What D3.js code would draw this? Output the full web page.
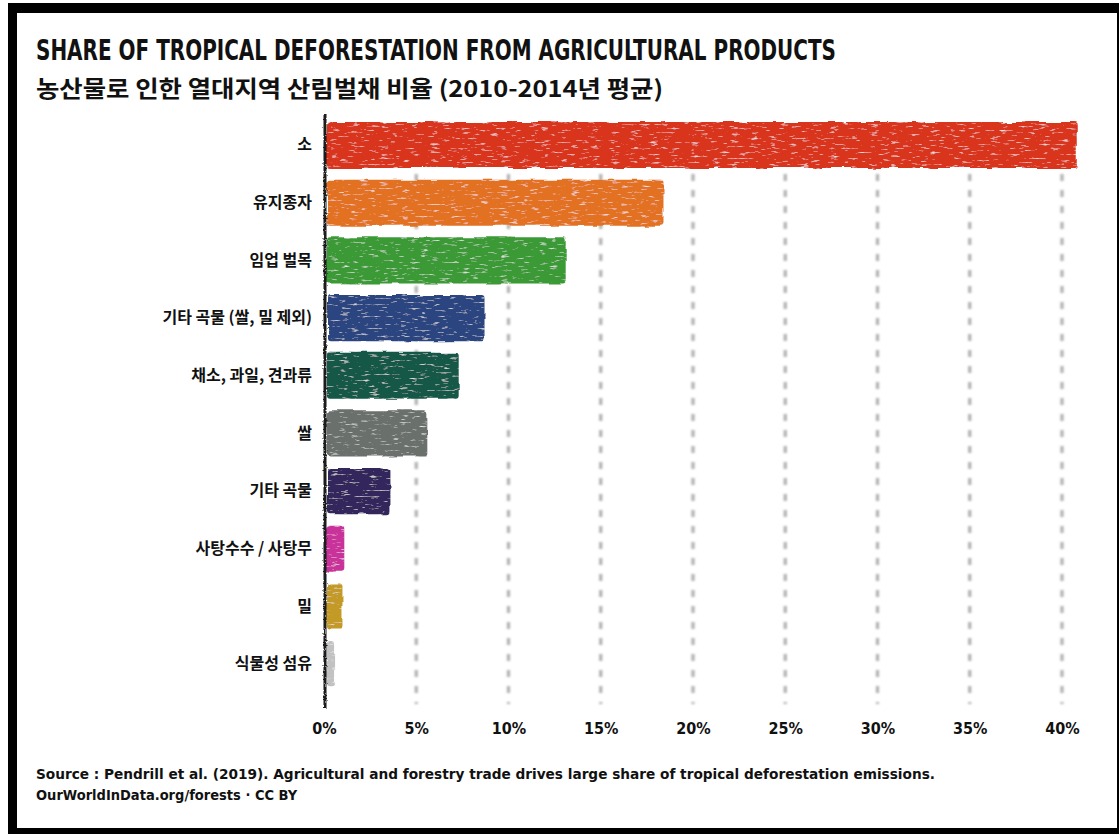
<!DOCTYPE html>
<html>
<head>
<meta charset="utf-8">
<script src="https://cdn.jsdelivr.net/npm/d3@7"></script>
<style>
  body { margin: 0; background: #fff; }
  svg { display: block; }
</style>
</head>
<body>
<div id="chart"></div>
<script>
// data
var categories = ["소", "유지종자", "임업 벌목", "기타 곡물 (쌀, 밀 제외)", "채소, 과일, 견과류",
  "쌀", "기타 곡물", "사탕수수 / 사탕무", "밀", "식물성 섬유"];
var shares = [40.8, 18.4, 13.1, 8.7, 7.3, 5.6, 3.6, 1.1, 1.0, 0.6];
var barColors = ["#d9361f", "#e27222", "#3a9a35", "#2c4480", "#135846",
  "#6b6f6c", "#33265c", "#c9309a", "#c49a25", "#c2c2c2"];
var tickValues = [0, 5, 10, 15, 20, 25, 30, 35, 40];

var width = 1119, height = 834;

var svg = d3.select("#chart").append("svg")
  .attr("width", width)
  .attr("height", height);

var defs = svg.append("defs");

// crayon look for bars
var f = defs.append("filter").attr("id", "crayon")
  .attr("x", "-3%").attr("y", "-20%").attr("width", "106%").attr("height", "140%");
f.append("feTurbulence").attr("type", "fractalNoise").attr("baseFrequency", "0.05")
  .attr("numOctaves", 2).attr("seed", 3).attr("result", "n1");
f.append("feDisplacementMap").attr("in", "SourceGraphic").attr("in2", "n1")
  .attr("scale", 5).attr("xChannelSelector", "R").attr("yChannelSelector", "G").attr("result", "d0");
f.append("feGaussianBlur").attr("in", "d0").attr("stdDeviation", 0.7).attr("result", "d");
f.append("feTurbulence").attr("type", "fractalNoise").attr("baseFrequency", "0.1 0.5")
  .attr("numOctaves", 3).attr("seed", 8).attr("result", "n2");
f.append("feColorMatrix").attr("in", "n2").attr("type", "matrix")
  .attr("values", "0 0 0 0 1  0 0 0 0 1  0 0 0 0 1  2.6 0 0 0 -1.6").attr("result", "spk");
f.append("feComposite").attr("in", "spk").attr("in2", "d").attr("operator", "in").attr("result", "spk2");
var fm = f.append("feMerge");
fm.append("feMergeNode").attr("in", "d");
fm.append("feMergeNode").attr("in", "spk2");

// rough pencil for lines (user space so thin lines keep a region)
var g2 = defs.append("filter").attr("id", "pencil").attr("filterUnits", "userSpaceOnUse")
  .attr("x", 0).attr("y", 0).attr("width", width).attr("height", height);
g2.append("feTurbulence").attr("type", "fractalNoise").attr("baseFrequency", "0.6")
  .attr("numOctaves", 1).attr("seed", 2).attr("result", "n");
g2.append("feDisplacementMap").attr("in", "SourceGraphic").attr("in2", "n")
  .attr("scale", 3).attr("xChannelSelector", "R").attr("yChannelSelector", "G");

var blur = defs.append("filter").attr("id", "soft").attr("filterUnits", "userSpaceOnUse")
  .attr("x", 0).attr("y", 0).attr("width", width).attr("height", height);
blur.append("feGaussianBlur").attr("stdDeviation", 0.9);

// frame
svg.append("rect").attr("x", 8).attr("y", 3).attr("width", width - 8).attr("height", height - 3)
  .attr("fill", "#000");
svg.append("rect").attr("x", 17).attr("y", 13).attr("width", 1100).attr("height", 815)
  .attr("fill", "#fff");

// titles
svg.append("text")
  .attr("x", 36).attr("y", 60)
  .attr("textLength", 800).attr("lengthAdjust", "spacingAndGlyphs")
  .style("font-family", "'DejaVu Sans Condensed', 'Liberation Sans Narrow', sans-serif")
  .style("font-weight", "bold").style("font-size", "29px").style("fill", "#111")
  .text("SHARE OF TROPICAL DEFORESTATION FROM AGRICULTURAL PRODUCTS");

svg.append("text")
  .attr("x", 36).attr("y", 97)
  .attr("textLength", 627).attr("lengthAdjust", "spacingAndGlyphs")
  .style("font-family", "'Noto Sans CJK KR', sans-serif")
  .style("font-weight", 700).style("font-size", "23px").style("fill", "#111")
  .text("농산물로 인한 열대지역 산림벌채 비율 (2010-2014년 평균)");

// scales
var x = d3.scaleLinear().domain([0, 40]).range([324, 1062]);
var y = d3.scaleBand().domain(categories).range([116.2, 693])
  .paddingInner(0.2).paddingOuter(0.1);

// dashed gridlines
svg.append("g").attr("filter", "url(#soft)").selectAll("line")
  .data(tickValues.slice(1))
  .enter().append("line")
  .attr("x1", function(d) { return x(d); })
  .attr("x2", function(d) { return x(d); })
  .attr("y1", 126).attr("y2", 704)
  .attr("stroke", "#b0b0b0").attr("stroke-width", 3.2)
  .attr("stroke-dasharray", "7,9");

// bars
var data = categories.map(function(c, i) { return { cat: c, v: shares[i], color: barColors[i] }; });

svg.append("g").attr("filter", "url(#crayon)")
  .selectAll("rect")
  .data(data)
  .enter().append("rect")
  .attr("x", x(0) + 3)
  .attr("y", function(d) { return y(d.cat); })
  .attr("width", function(d) { return x(d.v) - x(0) - 3; })
  .attr("height", y.bandwidth())
  .attr("rx", 3)
  .attr("fill", function(d) { return d.color; });

// y axis
var yAxis = svg.append("g")
  .attr("transform", "translate(" + x(0) + ",0)")
  .call(d3.axisLeft(y).tickSize(0).tickPadding(12));
yAxis.select(".domain").remove();
yAxis.selectAll("text")
  .style("font-family", "'Noto Sans CJK KR', sans-serif")
  .style("font-weight", 700).style("font-size", "16px").style("fill", "#111");

// sketchy axis line
svg.append("line")
  .attr("x1", x(0) + 1).attr("x2", x(0) + 1)
  .attr("y1", 114).attr("y2", 708)
  .attr("stroke", "#1a1a1a").attr("stroke-width", 3)
  .attr("filter", "url(#pencil)");

// x axis
var xAxis = svg.append("g")
  .attr("transform", "translate(0,712)")
  .call(d3.axisBottom(x).tickValues(tickValues).tickSize(0).tickPadding(11)
    .tickFormat(function(d) { return d + "%"; }));
xAxis.select(".domain").remove();
xAxis.selectAll("text")
  .style("font-family", "'DejaVu Sans Condensed', sans-serif")
  .style("font-weight", "bold").style("font-size", "16px").style("fill", "#111");

// source
var src = svg.append("g")
  .style("font-family", "'DejaVu Sans Condensed', sans-serif")
  .style("font-weight", "bold").style("font-size", "14.5px").style("fill", "#111");
src.append("text").attr("x", 36).attr("y", 779)
  .attr("textLength", 899).attr("lengthAdjust", "spacingAndGlyphs")
  .text("Source : Pendrill et al. (2019). Agricultural and forestry trade drives large share of tropical deforestation emissions.");
src.append("text").attr("x", 36).attr("y", 800)
  .text("OurWorldInData.org/forests · CC BY");
</script>
</body>
</html>
